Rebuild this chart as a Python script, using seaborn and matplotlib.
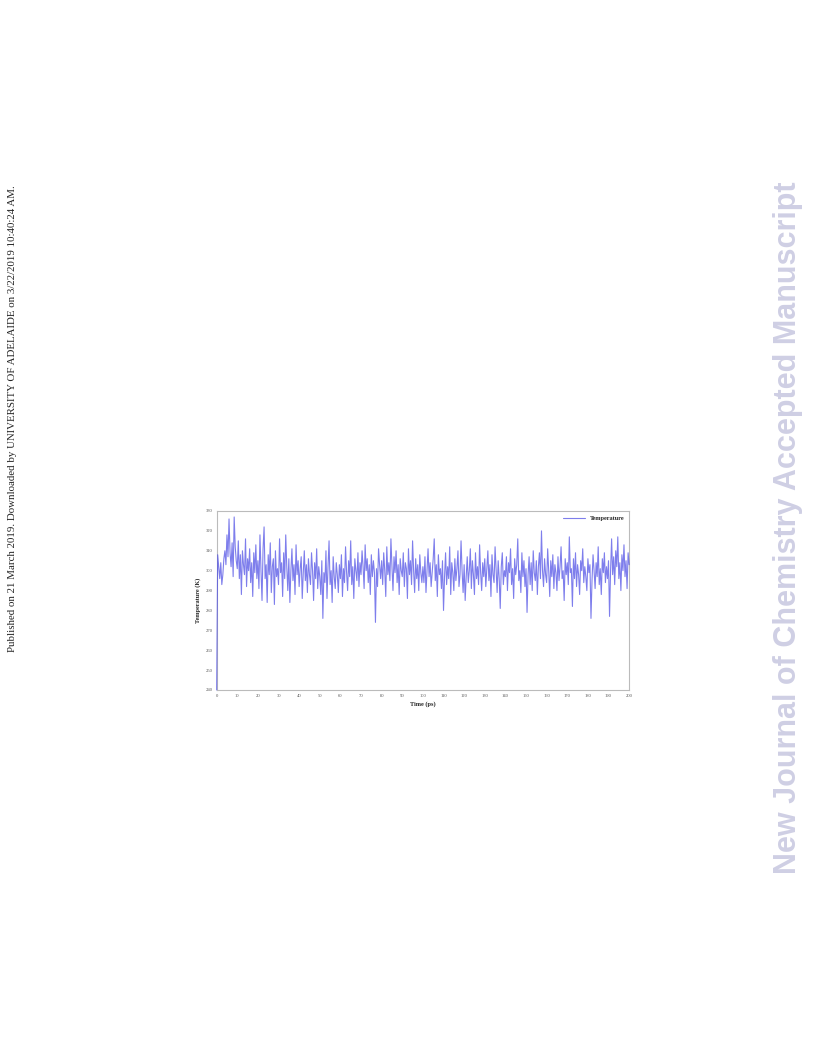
import numpy as np
import pandas as pd
import matplotlib
matplotlib.use("Agg")
import matplotlib.pyplot as plt
from matplotlib.ticker import MultipleLocator
import seaborn as sns

# ---------------------------------------------------------------------------
# MD temperature trace, every 0.5 ps (0 - 200 ps)
# ---------------------------------------------------------------------------
dt = 0.5
temperature = [
    240, 308, 302, 296, 304, 293, 298, 306, 310, 303, 318, 307, 326, 309, 302, 314, 297, 327, 312, 305,
    301, 315, 296, 308, 288, 310, 303, 298, 316, 292, 306, 300, 311, 294, 304, 287, 309, 299, 313, 296,
    305, 291, 318, 300, 285, 311, 322, 296, 303, 284, 308, 298, 314, 289, 302, 306, 283, 310, 297, 301,
    293, 316, 299, 304, 287, 309, 296, 318, 302, 290, 306, 284, 300, 311, 295, 303, 288, 313, 298, 305,
    292, 301, 307, 286, 299, 310, 295, 303, 289, 306, 298, 293, 309, 300, 285, 304, 296, 311, 291, 302,
    297, 288, 305, 276, 299, 294, 310, 286, 302, 315, 293, 300, 284, 307, 297, 291, 304, 298, 289, 303,
    296, 308, 287, 301, 294, 312, 299, 290, 305, 297, 315, 293, 302, 286, 306, 300, 295, 309, 292, 304,
    298, 310, 302, 291, 313, 300, 306, 294, 303, 288, 308, 297, 305, 299, 274, 301, 292, 311, 303, 296,
    305, 293, 309, 300, 287, 312, 298, 304, 295, 316, 302, 290, 307, 299, 310, 294, 303, 288, 306, 300,
    297, 309, 292, 304, 301, 286, 311, 298, 305, 293, 315, 300, 289, 306, 296, 303, 290, 308, 299, 294,
    302, 294, 307, 289, 300, 311, 297, 304, 292, 299, 306, 316, 295, 303, 287, 308, 298, 301, 291, 305,
    280, 297, 309, 293, 302, 296, 312, 288, 304, 299, 290, 306, 295, 301, 310, 292, 298, 315, 300, 289,
    303, 285, 297, 307, 294, 300, 311, 291, 305, 298, 288, 309, 296, 302, 293, 313, 299, 290, 304, 297,
    306, 292, 301, 310, 295, 303, 287, 308, 298, 294, 312, 300, 289, 305, 296, 281, 302, 309, 293, 300,
    297, 307, 290, 304, 299, 311, 293, 301, 286, 306, 298, 303, 316, 295, 300, 289, 309, 297, 305, 292,
    301, 279, 298, 307, 293, 304, 290, 310, 299, 295, 305, 288, 302, 309, 296, 320, 300, 292, 306, 298,
    294, 311, 300, 287, 305, 297, 308, 291, 303, 299, 290, 307, 295, 302, 312, 296, 300, 285, 306, 298,
    304, 293, 317, 299, 301, 282, 306, 296, 309, 292, 303, 298, 288, 305, 300, 311, 294, 302, 297, 290,
    306, 299, 303, 276, 295, 308, 300, 291, 304, 297, 312, 293, 301, 288, 306, 299, 309, 294, 302, 296,
    305, 277, 300, 316, 298, 307, 293, 310, 302, 317, 296, 304, 290, 308, 300, 313, 297, 305, 291, 309,
    303,
]
time = np.arange(len(temperature)) * dt

y_ticks = [240, 250, 260, 270, 280, 290, 300, 310, 320, 330]
x_ticks = list(range(0, 201, 10))

df = pd.DataFrame({"Time (ps)": time, "Temperature": temperature})

# ---------------------------------------------------------------------------
# figure: a page with the small plot in the middle
# ---------------------------------------------------------------------------
sns.set_theme(style="white")
plt.rcParams["font.family"] = ["Liberation Serif", "DejaVu Serif"]

fig = plt.figure(figsize=(8.16, 10.56), dpi=100)
ax = fig.add_axes([0.2655, 0.3466, 0.5055, 0.1695])

sns.lineplot(data=df, x="Time (ps)", y="Temperature", ax=ax,
             color="#4848e4", lw=0.8, alpha=0.7, label="Temperature",
             zorder=3, clip_on=False)

ax.set_xlim(0, 200)
ax.set_ylim(240, 330)
ax.set_xticks(x_ticks)
ax.set_yticks(y_ticks)
ax.xaxis.set_minor_locator(MultipleLocator(5))
ax.tick_params(axis="both", which="both", labelsize=3.3, length=1.5, width=0.4,
               color="#999999", labelcolor="#555555", pad=1.5, direction="out")
ax.tick_params(which="minor", length=1.0)
for s in ax.spines.values():
    s.set_color("#bbbbbb")
    s.set_linewidth(0.8)

ax.set_xlabel("Time (ps)", fontsize=4.5, fontweight="bold", labelpad=2)
ax.set_ylabel("Temperature (K)", fontsize=4.5, fontweight="bold", labelpad=3)

leg = ax.legend(loc="upper right", frameon=False, fontsize=4.5,
                handlelength=3.5, borderaxespad=0.4)
for t in leg.get_texts():
    t.set_fontweight("bold")

# page annotations
fig.text(0.0155, 0.383, "Published on 21 March 2019. Downloaded by UNIVERSITY OF ADELAIDE on 3/22/2019 10:40:24 AM.",
         rotation=90, fontsize=7.8, ha="center", va="bottom", color="#222222")
fig.text(0.966, 0.5005, "New Journal of Chemistry Accepted Manuscript",
         rotation=90, fontsize=22, fontweight="bold", ha="center", va="center",
         color="#cfcfe4", family=["Liberation Sans", "DejaVu Sans"])

fig.savefig("out.png", dpi=100)
